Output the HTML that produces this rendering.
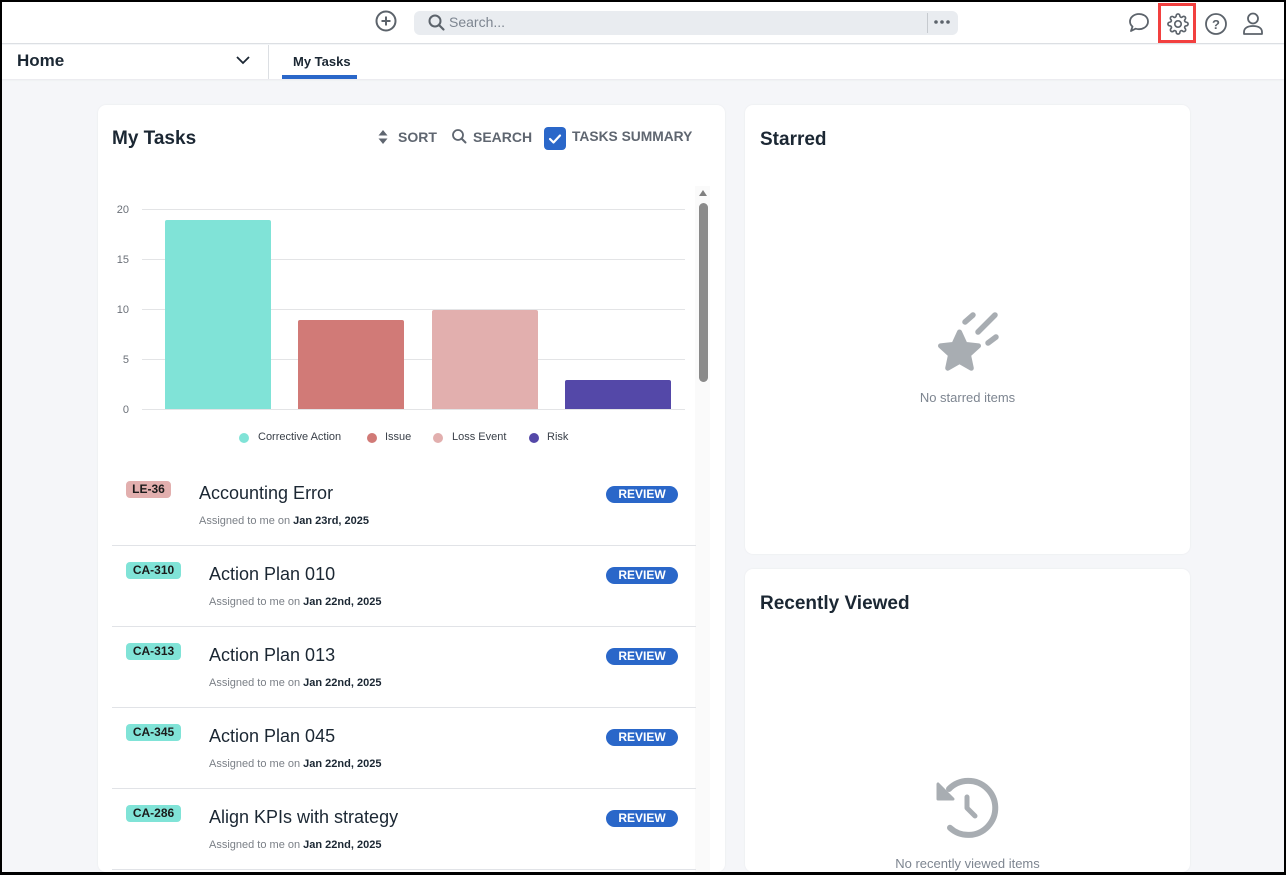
<!DOCTYPE html>
<html><head><meta charset="utf-8">
<style>
*{margin:0;padding:0;box-sizing:border-box}
html,body{width:1286px;height:875px;overflow:hidden;background:#000}
body{font-family:"Liberation Sans",sans-serif;position:relative}
.frame{position:absolute;left:2px;top:2px;width:1282px;height:870px;background:#f5f6f9;overflow:hidden}
.abs{position:absolute}
.hdr{left:0;top:0;width:1282px;height:42px;background:#fff;border-bottom:1px solid #dcdfe3}
.nav{left:0;top:43px;width:1282px;height:34px;background:#fff;box-shadow:0 1px 2px rgba(0,0,0,.06)}
.card{background:#fff;border-radius:8px;box-shadow:0 0 2px rgba(0,0,0,.06);overflow:hidden}
.t{position:absolute;white-space:nowrap}
.badge{position:absolute;height:17px;border-radius:4px;font-size:12px;font-weight:bold;color:#1b1b1b;line-height:17px;text-align:center}
.title{position:absolute;font-size:18px;color:#1b2733;white-space:nowrap}
.sub{position:absolute;font-size:11px;color:#7a7f86;white-space:nowrap}
.sub b{color:#1b2733}
.rev{position:absolute;width:72px;height:17px;border-radius:9px;background:#2a67c9;color:#fff;font-size:12px;font-weight:bold;text-align:center;line-height:17px}
.sep{position:absolute;left:14px;width:584px;height:1px;background:#e1e3e7}
.ylab{position:absolute;width:20px;text-align:right;font-size:11px;color:#6b7078}
.grid{position:absolute;left:44px;width:543px;height:1px;background:#e3e4e6}
</style></head><body>
<div class="frame">
  <div class="abs hdr"></div>
  <svg class="abs" style="left:372px;top:8px" width="26" height="26" viewBox="0 0 26 26"><circle cx="12" cy="11" r="9.5" fill="none" stroke="#5c636b" stroke-width="2"/><path d="M12 6.5v9M7.5 11h9" stroke="#5c636b" stroke-width="2"/></svg>
  <div class="abs" style="left:412px;top:9px;width:544px;height:24px;background:#e9ecf0;border-radius:6px"></div>
  <svg class="abs" style="left:425px;top:11px" width="20" height="20" viewBox="0 0 20 20"><circle cx="8" cy="8" r="5.5" fill="none" stroke="#5c636b" stroke-width="2"/><path d="M12 12l4.5 4.5" stroke="#5c636b" stroke-width="2.2" stroke-linecap="round"/></svg>
  <div class="t" style="left:447px;top:12px;font-size:14px;color:#7d8590">Search...</div>
  <div class="abs" style="left:925px;top:11px;width:1px;height:20px;background:#c6cacf"></div>
  <svg class="abs" style="left:930px;top:16px" width="20" height="8" viewBox="0 0 20 8"><circle cx="4" cy="4" r="1.8" fill="#5c636b"/><circle cx="10" cy="4" r="1.8" fill="#5c636b"/><circle cx="16" cy="4" r="1.8" fill="#5c636b"/></svg>
  <svg class="abs" style="left:1124px;top:8px" width="26" height="26" viewBox="0 0 26 26"><path d="M13 4c-5 0-9 3.3-9 7.5 0 2 .9 3.8 2.5 5.1L5 21l4.6-2.3c1 .3 2.2.5 3.4.5 5 0 9-3.3 9-7.7S18 4 13 4z" fill="none" stroke="#5c636b" stroke-width="1.8" stroke-linejoin="round"/></svg>
  <svg class="abs" style="left:1165px;top:11px" width="22" height="22" viewBox="0 0 24 24"><path d="M12 15.5a3.5 3.5 0 1 0 0-7 3.5 3.5 0 0 0 0 7z" fill="none" stroke="#5c636b" stroke-width="1.8"/><path d="M19.4 15a1.65 1.65 0 0 0 .33 1.820l.06.06a2 2 0 1 1-2.83 2.83l-.06-.06a1.65 1.65 0 0 0-1.82-.33 1.65 1.65 0 0 0-1 1.51V21a2 2 0 1 1-4 0v-.09A1.65 1.65 0 0 0 9 19.4a1.65 1.65 0 0 0-1.82.33l-.06.06a2 2 0 1 1-2.830-2.83l.06-.06A1.65 1.65 0 0 0 4.68 15a1.65 1.65 0 0 0-1.51-1H3a2 2 0 1 1 0-4h.09A1.65 1.65 0 0 0 4.6 9a1.65 1.65 0 0 0-.33-1.82l-.06-.06a2 2 0 1 1 2.83-2.83l.06.06A1.65 1.65 0 0 0 9 4.68 1.65 1.65 0 0 0 10 3.17V3a2 2 0 1 1 4 0v.09a1.65 1.65 0 0 0 1 1.51 1.65 1.65 0 0 0 1.82-.33l.06-.06a2 2 0 1 1 2.83 2.83l-.06.06A1.65 1.65 0 0 0 19.4 9a1.65 1.65 0 0 0 1.51 1H21a2 2 0 1 1 0 4h-.09a1.65 1.65 0 0 0-1.51 1z" fill="none" stroke="#5c636b" stroke-width="1.8"/></svg>
  <div class="abs" style="left:1156px;top:1px;width:38px;height:40px;border:3px solid #f2403f"></div>
  <svg class="abs" style="left:1201px;top:9px" width="26" height="26" viewBox="0 0 26 26"><circle cx="13" cy="13" r="10" fill="none" stroke="#5c636b" stroke-width="1.8"/><text x="13" y="18" text-anchor="middle" font-family="Liberation Sans" font-weight="bold" font-size="13" fill="#5c636b">?</text></svg>
  <svg class="abs" style="left:1238px;top:8px" width="26" height="28" viewBox="0 0 26 28"><circle cx="13" cy="8.5" r="5" fill="none" stroke="#5c636b" stroke-width="1.8"/><path d="M4 24v-2c0-3.5 3-6 9-6s9 2.5 9 6v2z" fill="none" stroke="#5c636b" stroke-width="1.8" stroke-linejoin="round"/></svg>

  <div class="abs nav"></div>
  <div class="t" style="left:15px;top:49px;font-size:17px;font-weight:bold;color:#1b2733">Home</div>
  <svg class="abs" style="left:233px;top:52px" width="16" height="12" viewBox="0 0 16 12"><path d="M2 3l6 6 6-6" fill="none" stroke="#1b2733" stroke-width="1.8"/></svg>
  <div class="abs" style="left:266px;top:43px;width:1px;height:34px;background:#dcdfe3"></div>
  <div class="t" style="left:291px;top:52px;font-size:13px;font-weight:bold;color:#1b2733">My Tasks</div>
  <div class="abs" style="left:280px;top:73px;width:75px;height:4px;background:#2a67c9"></div>

  <!-- left card -->
  <div class="abs card" style="left:96px;top:103px;width:627px;height:767px">
    <div class="t" style="left:14px;top:23px;font-size:19px;font-weight:bold;color:#1b2733">My Tasks</div>
    <svg class="abs" style="left:279px;top:24px" width="12" height="16" viewBox="0 0 12 16"><path d="M6 1l4.5 5.5h-9zM6 15l4.5-5.5h-9z" fill="#5f6670"/></svg>
    <div class="t" style="left:300px;top:24px;font-size:14px;font-weight:bold;color:#5f6670">SORT</div>
    <svg class="abs" style="left:353px;top:23px" width="17" height="17" viewBox="0 0 17 17"><circle cx="7" cy="7" r="5" fill="none" stroke="#5f6670" stroke-width="1.8"/><path d="M10.5 10.5l4 4" stroke="#5f6670" stroke-width="2" stroke-linecap="round"/></svg>
    <div class="t" style="left:375px;top:24px;font-size:14px;font-weight:bold;color:#5f6670">SEARCH</div>
    <div class="abs" style="left:446px;top:22px;width:22px;height:23px;border-radius:4px;background:#2a67c9"></div>
    <svg class="abs" style="left:446px;top:22px" width="22" height="23" viewBox="0 0 22 23"><path d="M6 12l3.5 3.5L16 8.5" fill="none" stroke="#fff" stroke-width="2.2" stroke-linecap="round" stroke-linejoin="round"/></svg>
    <div class="t" style="left:474px;top:24px;font-size:13.8px;font-weight:bold;color:#5f6670">TASKS SUMMARY</div>

    <div class="ylab" style="left:11px;top:99px">20</div>
    <div class="ylab" style="left:11px;top:149px">15</div>
    <div class="ylab" style="left:11px;top:199px">10</div>
    <div class="ylab" style="left:11px;top:249px">5</div>
    <div class="ylab" style="left:11px;top:299px">0</div>
    <div class="grid" style="top:104px"></div>
    <div class="grid" style="top:154px"></div>
    <div class="grid" style="top:204px"></div>
    <div class="grid" style="top:254px"></div>
    <div class="grid" style="top:304px"></div>
    <div class="abs" style="left:67px;top:115px;width:106px;height:189px;background:#80e3d7;border-radius:2px 2px 0 0"></div>
    <div class="abs" style="left:200px;top:215px;width:106px;height:89px;background:#d17a77;border-radius:2px 2px 0 0"></div>
    <div class="abs" style="left:334px;top:205px;width:106px;height:99px;background:#e2afae;border-radius:2px 2px 0 0"></div>
    <div class="abs" style="left:467px;top:275px;width:106px;height:29px;background:#5448a8;border-radius:2px 2px 0 0"></div>

    <div class="abs" style="left:141px;top:328px;width:10px;height:10px;border-radius:50%;background:#80e3d7"></div>
    <div class="t" style="left:160px;top:326px;font-size:11px;color:#3a4049">Corrective Action</div>
    <div class="abs" style="left:269px;top:328px;width:10px;height:10px;border-radius:50%;background:#d17a77"></div>
    <div class="t" style="left:287px;top:326px;font-size:11px;color:#3a4049">Issue</div>
    <div class="abs" style="left:335px;top:328px;width:10px;height:10px;border-radius:50%;background:#e2afae"></div>
    <div class="t" style="left:354px;top:326px;font-size:11px;color:#3a4049">Loss Event</div>
    <div class="abs" style="left:431px;top:328px;width:10px;height:10px;border-radius:50%;background:#5448a8"></div>
    <div class="t" style="left:449px;top:326px;font-size:11px;color:#3a4049">Risk</div>

    <div class="abs" style="left:597px;top:81px;width:15px;height:686px;background:#fafafa"></div>
    <svg class="abs" style="left:600px;top:84px" width="10" height="8" viewBox="0 0 10 8"><path d="M5 1l4 6H1z" fill="#7f7f7f"/></svg>
    <div class="abs" style="left:601px;top:98px;width:9px;height:179px;border-radius:5px;background:#8a8a8a"></div>

    <div class="badge" style="left:28px;top:376px;width:45px;background:#e2afae">LE-36</div>
    <div class="title" style="left:101px;top:378px">Accounting Error</div>
    <div class="sub" style="left:101px;top:410px">Assigned to me on <b>Jan 23rd, 2025</b></div>
    <div class="rev" style="left:508px;top:381px">REVIEW</div>
    <div class="sep" style="top:440px"></div>

    <div class="badge" style="left:28px;top:457px;width:55px;background:#80e3d7">CA-310</div>
    <div class="title" style="left:111px;top:459px">Action Plan 010</div>
    <div class="sub" style="left:111px;top:491px">Assigned to me on <b>Jan 22nd, 2025</b></div>
    <div class="rev" style="left:508px;top:462px">REVIEW</div>
    <div class="sep" style="top:521px"></div>

    <div class="badge" style="left:28px;top:538px;width:55px;background:#80e3d7">CA-313</div>
    <div class="title" style="left:111px;top:540px">Action Plan 013</div>
    <div class="sub" style="left:111px;top:572px">Assigned to me on <b>Jan 22nd, 2025</b></div>
    <div class="rev" style="left:508px;top:543px">REVIEW</div>
    <div class="sep" style="top:602px"></div>

    <div class="badge" style="left:28px;top:619px;width:55px;background:#80e3d7">CA-345</div>
    <div class="title" style="left:111px;top:621px">Action Plan 045</div>
    <div class="sub" style="left:111px;top:653px">Assigned to me on <b>Jan 22nd, 2025</b></div>
    <div class="rev" style="left:508px;top:624px">REVIEW</div>
    <div class="sep" style="top:683px"></div>

    <div class="badge" style="left:28px;top:700px;width:55px;background:#80e3d7">CA-286</div>
    <div class="title" style="left:111px;top:702px">Align KPIs with strategy</div>
    <div class="sub" style="left:111px;top:734px">Assigned to me on <b>Jan 22nd, 2025</b></div>
    <div class="rev" style="left:508px;top:705px">REVIEW</div>
    <div class="sep" style="top:764px"></div>
  </div>

  <!-- Starred card -->
  <div class="abs card" style="left:743px;top:103px;width:445px;height:449px">
    <div class="t" style="left:15px;top:24px;font-size:19px;font-weight:bold;color:#1b2733">Starred</div>
    <svg class="abs" style="left:0;top:0" width="445" height="449" viewBox="0 0 445 449">
      <polygon points="214.5,227 220.1,239.3 233.5,240.8 223.5,249.9 226.3,263.2 214.5,256.5 202.7,263.2 205.5,249.9 195.5,240.8 208.9,239.3" fill="#a8adb2" stroke="#a8adb2" stroke-width="5" stroke-linejoin="round"/>
      <path d="M220 217l8-7M233 227l17-17M243 238l8-6" stroke="#a8adb2" stroke-width="5.5" stroke-linecap="round"/>
    </svg>
    <div class="t" style="left:0;width:445px;text-align:center;top:285px;font-size:13px;color:#7d8590">No starred items</div>
  </div>

  <!-- Recently Viewed card -->
  <div class="abs card" style="left:743px;top:567px;width:445px;height:303px">
    <div class="t" style="left:15px;top:24px;font-size:19px;font-weight:bold;color:#1b2733">Recently Viewed</div>
    <svg class="abs" style="left:0;top:0" width="445" height="303" viewBox="0 0 445 303">
      <path d="M204 220 A27 27 0 1 1 205 258.8" fill="none" stroke="#a8adb2" stroke-width="6" stroke-linecap="round"/>
      <path d="M193 215 L193 230 L208 230 Z" fill="#a8adb2" stroke="#a8adb2" stroke-width="3" stroke-linejoin="round"/>
      <path d="M222 228v11l8 8" fill="none" stroke="#a8adb2" stroke-width="5" stroke-linecap="round" stroke-linejoin="round"/>
    </svg>
    <div class="t" style="left:0;width:445px;text-align:center;top:287px;font-size:13px;color:#7d8590">No recently viewed items</div>
  </div>
</div>
</body></html>
